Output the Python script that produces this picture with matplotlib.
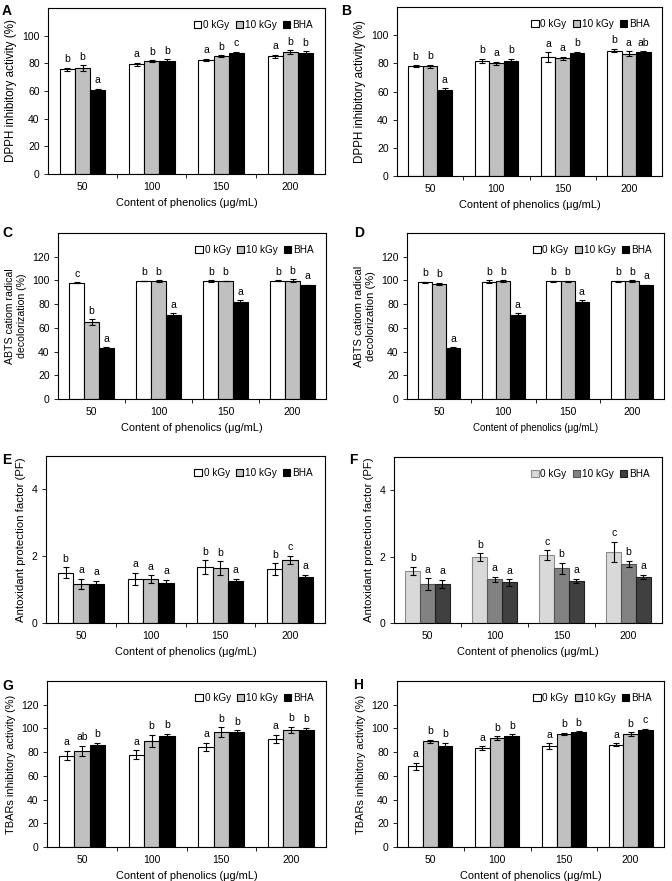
import matplotlib.pyplot as plt
import numpy as np
from matplotlib.patches import Patch

plt.rcParams['font.family'] = ['Liberation Sans', 'DejaVu Sans']

groups = ['50', '100', '150', '200']
series = ['0 kGy', '10 kGy', 'BHA']

# one row per series (0 kGy, 10 kGy, BHA), one column per phenolics content
a_vals = [[75.7, 79.3, 82.4, 85.0], [76.6, 81.4, 85.0, 87.9], [61.0, 81.7, 87.2, 87.4]]
a_err = [[1.2, 1.3, 1.0, 1.2], [2.0, 0.7, 0.7, 1.5], [0.7, 1.3, 1.2, 1.3]]
a_let = [['b', 'a', 'a', 'a'], ['b', 'b', 'b', 'b'], ['a', 'b', 'c', 'b']]

b_vals = [[78.0, 81.8, 84.4, 89.1], [78.0, 79.9, 83.6, 86.7], [61.0, 81.8, 87.0, 87.7]]
b_err = [[0.8, 1.5, 3.5, 1.3], [1.0, 1.2, 1.0, 1.8], [1.2, 1.5, 1.2, 1.0]]
b_let = [['b', 'b', 'a', 'b'], ['b', 'a', 'a', 'a'], ['a', 'b', 'b', 'ab']]

c_vals = [[97.9, 99.5, 99.5, 99.8], [64.7, 99.2, 99.5, 99.8], [43.4, 71.0, 81.6, 96.0]]
c_err = [[0.4, 0.4, 0.5, 0.2], [2.5, 0.8, 0.3, 1.0], [0.3, 1.2, 1.5, 0.5]]
c_let = [['c', 'b', 'b', 'b'], ['b', 'b', 'b', 'b'], ['a', 'a', 'a', 'a']]

d_vals = [[98.3, 99.0, 99.3, 99.2], [97.3, 99.5, 99.3, 99.5], [43.4, 71.0, 81.6, 96.0]]
d_err = [[0.5, 1.2, 0.4, 0.7], [0.8, 0.8, 0.4, 0.5], [0.3, 1.2, 1.5, 0.5]]
d_let = [['b', 'b', 'b', 'b'], ['b', 'b', 'b', 'b'], ['a', 'a', 'a', 'a']]

e_vals = [[1.51, 1.33, 1.68, 1.61], [1.17, 1.31, 1.65, 1.89], [1.16, 1.19, 1.26, 1.38]]
e_err = [[0.16, 0.18, 0.20, 0.18], [0.15, 0.12, 0.20, 0.13], [0.10, 0.10, 0.06, 0.06]]
e_let = [['b', 'a', 'b', 'b'], ['a', 'a', 'b', 'c'], ['a', 'a', 'a', 'a']]

f_vals = [[1.57, 1.98, 2.04, 2.15], [1.17, 1.32, 1.65, 1.78], [1.18, 1.22, 1.27, 1.40]]
f_err = [[0.12, 0.12, 0.15, 0.30], [0.18, 0.07, 0.17, 0.10], [0.12, 0.10, 0.07, 0.06]]
f_let = [['b', 'b', 'c', 'c'], ['a', 'a', 'b', 'b'], ['a', 'a', 'a', 'a']]

g_vals = [[77.0, 77.9, 84.5, 91.2], [81.0, 89.5, 97.0, 99.0], [86.0, 94.0, 97.3, 99.0]]
g_err = [[4.0, 3.5, 3.5, 3.5], [4.5, 5.0, 4.0, 2.5], [2.0, 1.5, 1.0, 1.5]]
g_let = [['a', 'a', 'a', 'a'], ['ab', 'b', 'b', 'b'], ['b', 'b', 'b', 'b']]

h_vals = [[67.9, 83.7, 84.8, 86.2], [89.0, 91.7, 95.3, 95.3], [85.4, 94.0, 96.7, 99.0]]
h_err = [[3.0, 1.5, 2.5, 1.3], [1.5, 1.7, 1.0, 1.5], [2.5, 1.2, 1.0, 0.8]]
h_let = [['a', 'a', 'a', 'a'], ['b', 'b', 'b', 'b'], ['b', 'b', 'b', 'c']]

lbl_dpph = 'DPPH inhibitory activity (%)'
lbl_abts = 'ABTS catiom radical\ndecolorization (%)'
lbl_pf = 'Antoxidant protection factor (PF)'
lbl_tbar = 'TBARs inhibitory activity (%)'
xlab = 'Content of phenolics (\u03bcg/mL)'

bw_fill = ['white', '#c0c0c0', 'black']
bw_edge = ['black', 'black', 'black']
grey_fill = ['#d9d9d9', '#828282', '#404040']
grey_edge = ['#8c8c8c', '#555555', '#202020']

W, H = 672, 881
fig = plt.figure(figsize=(W / 100, H / 100), dpi=100)


def panel(box, tag, tag_xy, vals, errs, lets, ylabel, ylim, yticks,
          fills=bw_fill, edges=bw_edge, xfs=7.9, yfs=8.4):
    l, r, t, b = box
    ax = fig.add_axes([l / W, 1 - b / H, (r - l) / W, (b - t) / H])
    x = np.arange(len(groups)) + 0.5
    w = 0.22
    for i in range(3):
        xi = x + (i - 1) * w
        ax.bar(xi, vals[i], w, color=fills[i], edgecolor=edges[i],
               linewidth=0.8, zorder=2)
        ax.errorbar(xi, vals[i], yerr=errs[i], fmt='none', ecolor='black',
                    elinewidth=0.8, capsize=2, capthick=0.8, zorder=3)
        for xx, v, e, s in zip(xi, vals[i], errs[i], lets[i]):
            ax.annotate(s, (xx, v + e), xytext=(0, 2.5), textcoords='offset points',
                        ha='center', va='bottom', fontsize=7.5)
    ax.set_xlim(0, len(groups))
    ax.set_ylim(*ylim)
    ax.set_yticks(yticks)
    ax.set_xticks(x)
    ax.set_xticklabels(groups)
    ax.set_xticks([1, 2, 3], minor=True)
    ax.tick_params(axis='x', which='major', length=0, pad=6, labelsize=7.5)
    ax.tick_params(axis='x', which='minor', length=3, width=0.6, direction='out')
    ax.tick_params(axis='y', length=3, width=0.6, direction='out', labelsize=7.5, pad=3)
    for sp in ax.spines.values():
        sp.set_linewidth(0.8)
    ax.set_ylabel(ylabel, fontsize=yfs, labelpad=4)
    ax.set_xlabel(xlab, fontsize=xfs, labelpad=4)
    handles = [Patch(facecolor=fills[i], edgecolor=edges[i], linewidth=0.8)
               for i in range(3)]
    ax.legend(handles, series, loc='upper right', ncol=3, frameon=False,
              fontsize=7.2, handlelength=0.75, handleheight=0.75,
              handletextpad=0.2, columnspacing=0.6, borderaxespad=0.8)
    fig.text(tag_xy[0] / W, 1 - tag_xy[1] / H, tag, fontsize=10,
             fontweight='bold', ha='left', va='center')
    return ax


panel((48, 325, 8, 174), 'A', (2, 11), a_vals, a_err, a_let, lbl_dpph,
      (0, 120), range(0, 101, 20))
panel((397, 662, 7, 176), 'B', (341, 11), b_vals, b_err, b_let, lbl_dpph,
      (0, 120), range(0, 101, 20))
panel((58, 326, 233, 399), 'C', (2, 233), c_vals, c_err, c_let, lbl_abts,
      (0, 140), range(0, 121, 20), yfs=7.6)
panel((407, 664, 233, 399), 'D', (354, 233), d_vals, d_err, d_let, lbl_abts,
      (0, 140), range(0, 121, 20), xfs=7.0, yfs=8.0)
panel((46, 325, 456, 623), 'E', (2, 460), e_vals, e_err, e_let, lbl_pf,
      (0, 5), [0, 2, 4], yfs=8.2)
panel((394, 662, 457, 623), 'F', (349, 460), f_vals, f_err, f_let, lbl_pf,
      (0, 5), [0, 2, 4], fills=grey_fill, edges=grey_edge, yfs=8.2)
panel((47, 326, 681, 847), 'G', (2, 686), g_vals, g_err, g_let, lbl_tbar,
      (0, 140), range(0, 121, 20), yfs=7.9)
panel((397, 664, 681, 847), 'H', (353, 685), h_vals, h_err, h_let, lbl_tbar,
      (0, 140), range(0, 121, 20), yfs=7.9)

fig.savefig('out.png', dpi=100)
